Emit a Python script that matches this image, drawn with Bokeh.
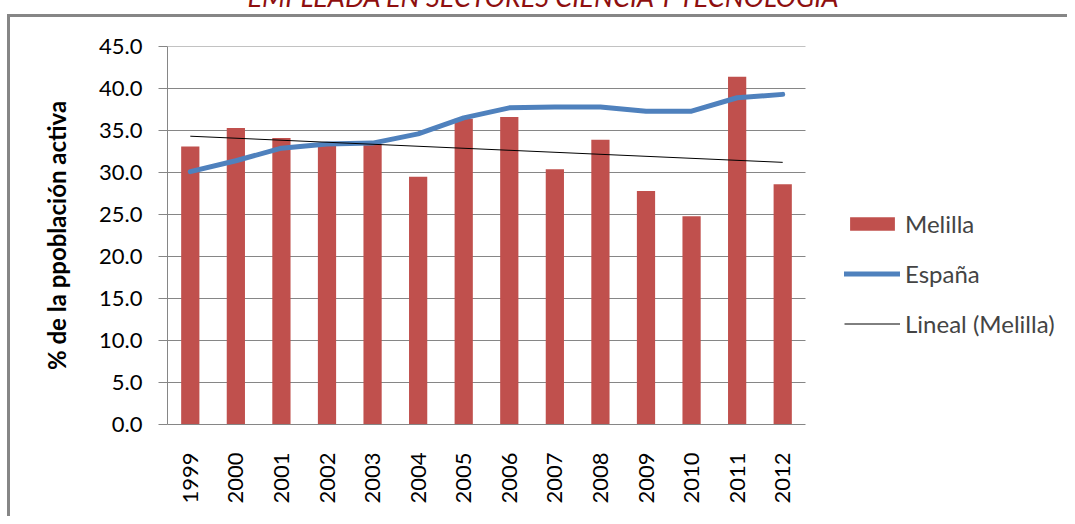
import math
import numpy as np
from bokeh.plotting import figure
from bokeh.models import (ColumnDataSource, Range1d, Legend, LegendItem, FixedTicker,
                          NumeralTickFormatter, Title)
from bokeh.embed import file_html
from bokeh.resources import INLINE

# ---- data ----
years = ["1999", "2000", "2001", "2002", "2003", "2004", "2005",
         "2006", "2007", "2008", "2009", "2010", "2011", "2012"]
melilla = [33.1, 35.3, 34.1, 33.4, 33.4, 29.5, 36.4, 36.6, 30.4, 33.9, 27.8, 24.8, 41.4, 28.6]
espana = [30.1, 31.4, 32.9, 33.4, 33.5, 34.6, 36.5, 37.7, 37.8, 37.8, 37.3, 37.3, 38.9, 39.3]
y_ticks = [0, 5, 10, 15, 20, 25, 30, 35, 40, 45]
title_text = "EMPLEADA EN SECTORES CIENCIA Y TECNOLOGÍA"
y_label = "% de la ppoblación activa"

n = len(years)
xpos = [i + 0.5 for i in range(n)]          # category centres

# linear trend of Melilla (Excel "Lineal")
slope, intercept = np.polyfit(np.arange(n), melilla, 1)
trend_x = [xpos[0], xpos[-1]]
trend_y = [intercept, intercept + slope * (n - 1)]

FONT = "Lato"
GRAY = "#868686"

# ---- layout (px) ----
W = 1067
TOP_HIDE = 59                 # part of the canvas pushed above the page (clipped title)
H = 516 + TOP_HIDE
LEFT = 167
PLOT_W = 638                  # width of the category area
FRAME_W = W - LEFT
x_end = n * FRAME_W / PLOT_W

src = ColumnDataSource(dict(x=xpos, year=years, melilla=melilla, espana=espana))

p = figure(x_range=Range1d(0, x_end), y_range=Range1d(0, 45),
           width=W, height=H, output_backend="svg", toolbar_location=None,
           min_border_left=LEFT, min_border_right=0, min_border_top=105, min_border_bottom=92)
p.margin = (-TOP_HIDE, 0, 0, 0)
p.outline_line_color = None
p.background_fill_color = "white"
p.border_fill_color = None
top_line = 14 + TOP_HIDE
p.styles = {
    "background": (f"linear-gradient({GRAY},{GRAY}) 7px {top_line}px / 100% 3px no-repeat, "
                   f"linear-gradient({GRAY},{GRAY}) 7px {top_line}px / 3px 100% no-repeat, white"),
}

# horizontal gridlines limited to the category area
grid_y = [t for t in y_ticks if t > 0]
p.segment(x0=[0] * len(grid_y), x1=[n] * len(grid_y), y0=grid_y, y1=grid_y,
          line_color=GRAY, line_width=1)

bars = p.vbar(x="x", top="melilla", width=0.4, source=src,
              fill_color="#C0504D", line_color=None)
esp = p.line(x="x", y="espana", source=src, line_color="#4F81BD", line_width=5,
             line_join="round", line_cap="round")
trend = p.line(x=trend_x, y=trend_y, line_color="black", line_width=1)

# axes
p.xgrid.grid_line_color = None
p.ygrid.grid_line_color = None

p.yaxis.ticker = FixedTicker(ticks=y_ticks)
p.yaxis.formatter = NumeralTickFormatter(format="0.0")
p.yaxis.axis_line_color = GRAY
p.yaxis.major_tick_line_color = GRAY
p.yaxis.major_tick_out = 9
p.yaxis.major_tick_in = 0
p.yaxis.minor_tick_line_color = None
p.yaxis.major_label_standoff = 16
p.yaxis.major_label_text_font = FONT
p.yaxis.major_label_text_font_size = "22px"
p.yaxis.major_label_text_color = "black"
p.yaxis.axis_label = y_label
p.yaxis.axis_label_text_font = FONT
p.yaxis.axis_label_text_font_size = "24px"
p.yaxis.axis_label_text_font_style = "bold"
p.yaxis.axis_label_text_color = "black"
p.yaxis.axis_label_standoff = 25

p.xaxis.ticker = FixedTicker(ticks=xpos)
p.xaxis.major_label_overrides = {x: y for x, y in zip(xpos, years)}
p.xaxis.bounds = (0, n)
p.xaxis.axis_line_color = GRAY
p.xaxis.major_tick_line_color = None
p.xaxis.minor_tick_line_color = None
p.xaxis.major_label_orientation = math.pi / 2
p.xaxis.major_label_standoff = 22
p.xaxis.major_label_text_font = FONT
p.xaxis.major_label_text_font_size = "22px"
p.xaxis.major_label_text_color = "black"

legend = Legend(items=[LegendItem(label="Melilla", renderers=[bars]),
                       LegendItem(label="España", renderers=[esp]),
                       LegendItem(label="Lineal (Melilla)", renderers=[trend])],
                location=(677, 86), glyph_width=56, glyph_height=17, label_height=20,
                spacing=21, padding=0, margin=0, border_line_color=None,
                background_fill_alpha=0, label_standoff=5,
                label_text_font=FONT, label_text_font_size="24px")
p.add_layout(legend)

# title (its upper part is cut off in the original)
p.add_layout(Title(text=title_text, align="left", offset=80, vertical_align="bottom",
                   standoff=67, text_font=FONT, text_font_size="27px",
                   text_font_style="italic", text_color="#8E0F0F"), "above")

open("out.html", "w").write(file_html(p, INLINE))
